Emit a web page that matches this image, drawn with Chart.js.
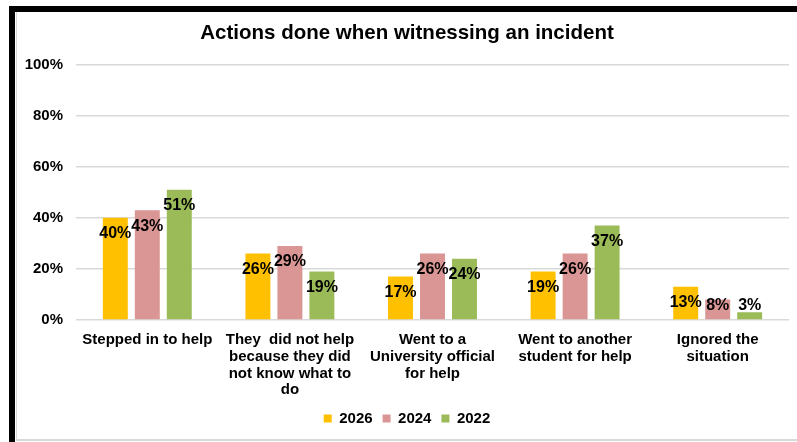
<!DOCTYPE html>
<html>
<head>
<meta charset="utf-8">
<script src="https://cdn.jsdelivr.net/npm/chart.js"></script>
<style>
    body { margin: 0; background: #fff; }
    .frame-left { position: absolute; left: 9px; top: 6px; width: 6px; height: 436px; background: #000; }
    .frame-top { position: absolute; left: 9px; top: 6px; width: 788px; height: 6px; background: #000; }
    .inner-left { position: absolute; left: 16px; top: 12px; width: 1px; height: 428px; background: #d9d9d9; }
    .inner-bottom { position: absolute; left: 16px; top: 439px; width: 781px; height: 2px; background: #d9d9d9; }
    #chart { position: absolute; left: 17px; top: 12px; }
</style>
</head>
<body>
<div class="frame-left"></div>
<div class="frame-top"></div>
<div class="inner-left"></div>
<div class="inner-bottom"></div>
<canvas id="chart" width="780" height="427"></canvas>
<script>
// Dữ liệu biểu đồ
var categories = [
    'Stepped in to help',
    ['They  did not help', 'because they did', 'not know what to', 'do'],
    ['Went to a', 'University official', 'for help'],
    ['Went to another', 'student for help'],
    ['Ignored the', 'situation']
];
var values2026 = [40, 26, 17, 19, 13];
var values2024 = [43, 29, 26, 26, 8];
var values2022 = [51, 19, 24, 37, 3];
var yTicks = [0, 20, 40, 60, 80, 100];

var FONT = "'Liberation Sans', Arial, sans-serif";

// Plugin vẽ nhãn giá trị trên cột
var barLabels = {
    id: 'barLabels',
    afterDatasetsDraw: function(chart) {
        var ctx = chart.ctx;
        var zeroY = chart.scales.y.getPixelForValue(0);
        ctx.save();
        ctx.font = 'bold 16px ' + FONT;
        ctx.fillStyle = '#000';
        ctx.textAlign = 'center';
        ctx.textBaseline = 'middle';
        chart.data.datasets.forEach(function(ds, i) {
            chart.getDatasetMeta(i).data.forEach(function(bar, j) {
                var y = Math.min(bar.y + 16, zeroY - 14);
                ctx.fillText(ds.data[j] + '%', bar.x, y);
            });
        });
        ctx.restore();
    }
};

var ctx = document.getElementById('chart').getContext('2d');
var chart = new Chart(ctx, {
    type: 'bar',
    data: {
        labels: categories,
        datasets: [
            { label: '2026', data: values2026, backgroundColor: '#FFC000' },
            { label: '2024', data: values2024, backgroundColor: '#D99694' },
            { label: '2022', data: values2022, backgroundColor: '#9BBB59' }
        ]
    },
    options: {
        responsive: false,
        animation: false,
        layout: { padding: { left: 8, right: 8, top: 0, bottom: 3 } },
        datasets: {
            bar: { categoryPercentage: 0.673, barPercentage: 0.78 }
        },
        plugins: {
            title: {
                display: true,
                text: 'Actions done when witnessing an incident',
                color: '#000',
                font: { family: FONT, size: 20.5, weight: 'bold' },
                padding: { top: 9, bottom: 19 }
            },
            legend: {
                position: 'bottom',
                labels: {
                    color: '#000',
                    boxWidth: 8,
                    boxHeight: 8,
                    padding: 10,
                    font: { family: FONT, size: 15, weight: 'bold' }
                }
            },
            tooltip: { enabled: false }
        },
        scales: {
            x: {
                grid: { display: false },
                border: { display: false },
                ticks: {
                    color: '#000',
                    padding: 3,
                    maxRotation: 0,
                    autoSkip: false,
                    font: { family: FONT, size: 15, weight: 'bold', lineHeight: 1.13 }
                },
                afterFit: function(scale) { scale.height = 81; }
            },
            y: {
                min: 0,
                max: 100,
                border: { display: false },
                grid: { color: '#d9d9d9', lineWidth: 1.5, drawTicks: false },
                afterBuildTicks: function(scale) {
                    scale.ticks = yTicks.map(function(v) { return { value: v }; });
                },
                ticks: {
                    color: '#000',
                    padding: 13,
                    font: { family: FONT, size: 15, weight: 'bold' },
                    callback: function(value) { return value + '%'; }
                },
                afterFit: function(scale) { scale.width = 51; }
            }
        }
    },
    plugins: [barLabels]
});
</script>
</body>
</html>
